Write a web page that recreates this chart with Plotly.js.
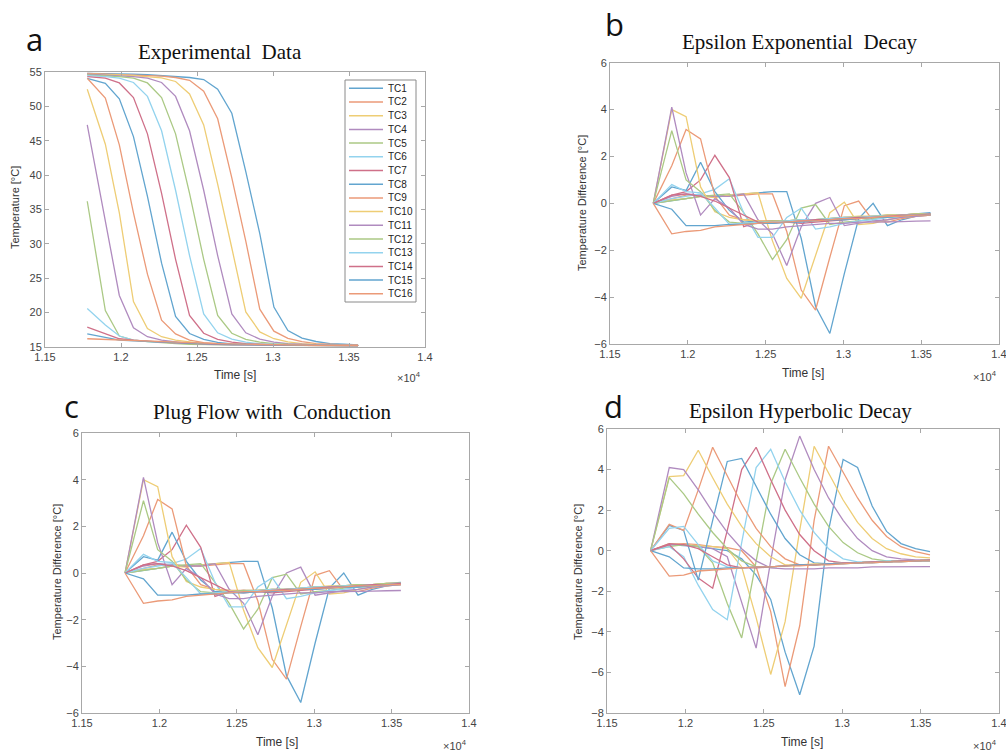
<!DOCTYPE html>
<html>
<head>
<meta charset="utf-8">
<script src="https://cdn.plot.ly/plotly-3.0.1.min.js"></script>
<style>html,body{margin:0;padding:0;background:#fff;}#chart{width:1006px;height:751px;}</style>
</head>
<body>
<div id="chart"></div>
<script>
// ---------------- data ----------------
const time = [11778, 11897, 11989, 12082, 12174, 12267, 12359, 12451, 12544, 12636, 12729, 12821, 12913, 13006, 13098, 13191, 13283, 13375, 13468, 13560];
const seriesNames = ['TC1','TC2','TC3','TC4','TC5','TC6','TC7','TC8','TC9','TC10','TC11','TC12','TC13','TC14','TC15','TC16'];
const xTickVals = [11500, 12000, 12500, 13000, 13500, 14000];
const xTickText = ['1.15', '1.2', '1.25', '1.3', '1.35', '1.4'];

// Panel a: experimental temperature [°C], one row per thermocouple TC1..TC16
const expTemp = [
  [54.8, 54.8, 54.7, 54.7, 54.6, 54.5, 54.4, 54.2, 53.9, 52.5, 49.0, 40.5, 31.5, 20.8, 17.4, 16.3, 15.8, 15.5, 15.4, 15.3],
  [54.8, 54.7, 54.7, 54.6, 54.5, 54.4, 54.2, 53.8, 52.2, 48.2, 39.6, 30.4, 20.5, 17.3, 16.25, 15.77, 15.49, 15.39, 15.3, 15.25],
  [54.7, 54.68, 54.58, 54.48, 54.36, 54.14, 53.62, 51.8, 47.3, 38.7, 29.4, 20.1, 17.2, 16.2, 15.74, 15.48, 15.38, 15.29, 15.25, 15.25],
  [54.67, 54.57, 54.47, 54.34, 54.11, 53.48, 51.45, 46.45, 37.8, 28.3, 19.8, 17.07, 16.15, 15.71, 15.47, 15.37, 15.29, 15.25, 15.25, 15.24],
  [54.57, 54.47, 54.33, 54.1, 53.41, 51.28, 46.0, 37.35, 27.75, 19.6, 17.0, 16.12, 15.7, 15.47, 15.37, 15.28, 15.25, 15.25, 15.24, 15.24],
  [54.47, 54.34, 54.11, 53.48, 51.45, 46.45, 37.8, 28.3, 19.8, 17.07, 16.15, 15.71, 15.47, 15.37, 15.29, 15.25, 15.25, 15.24, 15.24, 15.23],
  [54.33, 54.1, 53.41, 51.28, 46.0, 37.35, 27.75, 19.6, 17.0, 16.12, 15.7, 15.47, 15.37, 15.28, 15.25, 15.25, 15.24, 15.24, 15.23, 15.23],
  [54.08, 53.34, 51.1, 45.6, 36.9, 27.2, 19.44, 16.96, 16.1, 15.68, 15.46, 15.36, 15.28, 15.25, 15.25, 15.24, 15.24, 15.23, 15.23, 15.23],
  [54.1, 51.2, 44.4, 34.5, 25.6, 18.9, 16.9, 16.0, 15.64, 15.45, 15.35, 15.27, 15.25, 15.24, 15.24, 15.23, 15.23, 15.23, 15.22, 15.22],
  [52.5, 44.5, 34.5, 21.6, 17.7, 16.5, 16.0, 15.7, 15.5, 15.4, 15.35, 15.3, 15.28, 15.25, 15.24, 15.24, 15.23, 15.23, 15.22, 15.22],
  [47.3, 33.5, 22.5, 17.8, 16.5, 16.0, 15.7, 15.5, 15.4, 15.35, 15.3, 15.28, 15.25, 15.24, 15.24, 15.23, 15.23, 15.22, 15.22, 15.22],
  [36.2, 20.3, 16.6, 16.0, 15.8, 15.6, 15.5, 15.4, 15.35, 15.3, 15.28, 15.26, 15.25, 15.24, 15.23, 15.23, 15.22, 15.22, 15.22, 15.21],
  [20.6, 18.2, 16.6, 16.0, 15.8, 15.7, 15.6, 15.5, 15.4, 15.35, 15.3, 15.28, 15.26, 15.25, 15.24, 15.23, 15.22, 15.22, 15.21, 15.21],
  [17.9, 17.0, 16.2, 16.0, 15.8, 15.7, 15.6, 15.5, 15.45, 15.4, 15.35, 15.3, 15.28, 15.26, 15.25, 15.24, 15.23, 15.22, 15.21, 15.21],
  [16.9, 16.4, 16.0, 15.9, 15.8, 15.7, 15.6, 15.55, 15.5, 15.45, 15.4, 15.35, 15.3, 15.28, 15.26, 15.25, 15.24, 15.23, 15.22, 15.21],
  [16.2, 16.1, 16.0, 15.9, 15.8, 15.75, 15.7, 15.6, 15.55, 15.5, 15.45, 15.4, 15.35, 15.3, 15.28, 15.26, 15.25, 15.24, 15.23, 15.22]
];

// Panels b and c: temperature difference [°C] (the two panels show the same curves)
const diffExp = [
  [0, 0.1, 0.2, 0.3, 0.3, 0.35, 0.4, 0.45, 0.5, 0.5, -1.5, -4.4, -5.55, -3.0, -0.65, 0.0, -0.95, -0.7, -0.55, -0.45],
  [0, 0.2, 0.35, 0.35, 0.3, 0.3, 0.35, 0.4, 0.4, -1.2, -3.7, -4.55, -2.3, -0.1, 0.1, -0.75, -0.8, -0.65, -0.55, -0.5],
  [0, 0.15, 0.2, 0.3, 0.25, 0.35, 0.4, 0.45, -1.6, -3.2, -4.05, -2.2, -0.4, 0.05, -0.9, -0.85, -0.7, -0.6, -0.55, -0.5],
  [0, 0.3, 0.4, 0.35, 0.3, 0.3, 0.4, -0.7, -1.3, -2.65, -1.0, 0.0, 0.25, -0.95, -0.85, -0.75, -0.7, -0.6, -0.55, -0.5],
  [0, 0.1, 0.2, 0.3, 0.35, 0.4, -0.4, -1.3, -2.4, -1.55, -0.2, -0.05, -0.9, -0.8, -0.75, -0.65, -0.6, -0.55, -0.5, -0.45],
  [0, 0.2, 0.3, 0.4, 0.6, 1.05, -0.4, -1.45, -1.45, -0.6, -0.2, -1.1, -1.0, -0.85, -0.75, -0.7, -0.6, -0.55, -0.5, -0.45],
  [0, 0.35, 0.5, 1.0, 2.05, 1.1, -1.0, -0.8, -0.75, -0.8, -0.85, -0.8, -0.75, -0.7, -0.65, -0.6, -0.55, -0.5, -0.5, -0.45],
  [0, 0.7, 0.55, 1.75, 0.5, -0.3, -0.8, -0.75, -0.8, -0.8, -0.75, -0.7, -0.7, -0.65, -0.6, -0.6, -0.55, -0.5, -0.45, -0.4],
  [0, 1.6, 3.15, 2.75, 0.3, -0.5, -0.7, -0.75, -0.75, -0.75, -0.7, -0.7, -0.65, -0.6, -0.6, -0.55, -0.5, -0.5, -0.45, -0.45],
  [0, 4.0, 3.7, 0.7, -0.36, -0.6, -0.7, -0.75, -0.8, -0.75, -0.7, -0.7, -0.65, -0.6, -0.55, -0.55, -0.5, -0.5, -0.45, -0.45],
  [0, 4.1, 1.3, -0.5, 0.2, -0.2, -0.9, -1.1, -1.1, -1.0, -0.95, -0.9, -0.85, -0.85, -0.8, -0.8, -0.8, -0.78, -0.76, -0.75],
  [0, 3.1, 1.0, 0.5, -0.3, -0.8, -0.85, -0.8, -0.75, -0.75, -0.7, -0.7, -0.65, -0.6, -0.6, -0.55, -0.5, -0.5, -0.45, -0.45],
  [0, 0.8, 0.5, 0.45, -0.2, -0.9, -0.85, -0.8, -0.8, -0.75, -0.7, -0.7, -0.65, -0.6, -0.6, -0.55, -0.55, -0.5, -0.5, -0.45],
  [0, 0.35, 0.4, 0.3, 0.1, -0.2, -0.5, -0.8, -0.85, -0.8, -0.75, -0.7, -0.7, -0.65, -0.6, -0.6, -0.55, -0.5, -0.5, -0.45],
  [0, -0.25, -0.95, -0.95, -0.95, -0.9, -0.9, -0.85, -0.85, -0.8, -0.8, -0.75, -0.7, -0.7, -0.65, -0.6, -0.6, -0.55, -0.5, -0.5],
  [0, -1.3, -1.2, -1.15, -1.0, -0.95, -0.9, -0.85, -0.8, -0.8, -0.75, -0.75, -0.7, -0.65, -0.65, -0.6, -0.55, -0.55, -0.5, -0.5]
];

// Panel d: temperature difference [°C], hyperbolic decay
const diffHyp = [
  [0, 0.3, 0.25, 0.2, 0.1, 0.0, -0.4, -1.2, -2.4, -5.0, -7.1, -4.7, 1.0, 4.5, 4.1, 2.2, 0.95, 0.35, 0.1, -0.05],
  [0, 0.3, 0.35, 0.3, 0.2, 0.15, 0.0, -0.8, -3.0, -6.7, -3.7, 1.5, 5.15, 3.9, 2.6, 1.5, 0.7, 0.2, -0.05, -0.2],
  [0, 0.35, 0.3, 0.25, 0.2, 0.1, -0.8, -3.3, -6.1, -3.5, 1.0, 5.15, 3.8, 2.5, 1.4, 0.6, 0.1, -0.15, -0.3, -0.35],
  [0, 0.3, 0.3, 0.2, 0.1, -0.3, -2.5, -4.8, -0.5, 3.5, 5.65, 4.0, 2.6, 1.5, 0.6, 0.0, -0.3, -0.4, -0.45, -0.45],
  [0, 0.2, 0.3, 0.2, -0.6, -2.6, -4.3, -0.5, 3.3, 5.0, 3.6, 2.3, 1.2, 0.4, -0.1, -0.4, -0.5, -0.5, -0.5, -0.5],
  [0, 0.2, -0.3, -1.7, -2.9, -3.4, 0.4, 4.1, 5.0, 3.4, 2.0, 0.9, 0.1, -0.4, -0.55, -0.55, -0.5, -0.5, -0.5, -0.5],
  [0, 0.3, -0.4, -1.35, -1.85, 1.0, 4.0, 5.1, 3.5, 2.0, 0.8, 0.0, -0.5, -0.6, -0.6, -0.55, -0.55, -0.5, -0.5, -0.45],
  [0, 1.25, 1.0, -1.45, 1.5, 4.4, 4.55, 3.2, 1.8, 0.6, -0.2, -0.6, -0.65, -0.6, -0.6, -0.55, -0.55, -0.5, -0.5, -0.45],
  [0, 1.3, 1.0, 3.0, 5.1, 3.7, 2.3, 1.1, 0.2, -0.4, -0.7, -0.7, -0.65, -0.6, -0.6, -0.55, -0.55, -0.5, -0.5, -0.45],
  [0, 3.65, 3.7, 4.95, 3.6, 2.3, 1.2, 0.35, -0.3, -0.7, -0.7, -0.65, -0.65, -0.6, -0.6, -0.55, -0.55, -0.5, -0.5, -0.45],
  [0, 4.1, 4.0, 3.0, 1.9, 0.9, 0.1, -0.5, -0.85, -0.9, -0.9, -0.9, -0.85, -0.85, -0.85, -0.8, -0.8, -0.8, -0.8, -0.78],
  [0, 3.6, 2.8, 1.8, 0.9, 0.1, -0.5, -0.8, -0.8, -0.75, -0.7, -0.7, -0.65, -0.6, -0.6, -0.55, -0.55, -0.5, -0.5, -0.45],
  [0, 1.1, 1.2, 0.3, -0.5, -0.8, -0.85, -0.8, -0.8, -0.75, -0.7, -0.7, -0.65, -0.6, -0.6, -0.55, -0.55, -0.5, -0.5, -0.45],
  [0, 0.35, 0.3, 0.1, -0.3, -0.7, -0.85, -0.85, -0.8, -0.75, -0.7, -0.7, -0.65, -0.6, -0.6, -0.55, -0.55, -0.5, -0.5, -0.45],
  [0, -0.3, -0.85, -0.9, -0.9, -0.85, -0.85, -0.8, -0.8, -0.75, -0.7, -0.7, -0.65, -0.65, -0.6, -0.6, -0.55, -0.55, -0.5, -0.5],
  [0, -1.25, -1.2, -1.0, -0.95, -0.9, -0.85, -0.8, -0.8, -0.75, -0.75, -0.7, -0.7, -0.65, -0.6, -0.6, -0.55, -0.55, -0.5, -0.5]
];

// ---------------- styling ----------------
const palette = ['#62a5cf', '#eb9a78', '#eecd75', '#b08bbf', '#abc985', '#93d3ee', '#cf7089'];
const W = 1006, H = 751;
const px = x => x / W;
const py = y => 1 - y / H;

const traces = [];
function addPanel(rows, xa, ya) {
  rows.forEach((vals, k) => {
    traces.push({
      x: time, y: vals, type: 'scatter', mode: 'lines',
      name: seriesNames[k], xaxis: xa, yaxis: ya, showlegend: false,
      line: {color: palette[k % palette.length], width: 1.3}
    });
  });
}
addPanel(expTemp, 'x', 'y');
addPanel(diffExp, 'x2', 'y2');
addPanel(diffExp, 'x3', 'y3');
addPanel(diffHyp, 'x4', 'y4');

const axisLine = '#a8a8a8';
const tickFont = {family: 'Liberation Sans, Arial, sans-serif', size: 11, color: '#444'};
function xAx(l, r, anchor) {
  return {domain: [px(l), px(r)], anchor: anchor, range: [11500, 14000],
    tickmode: 'array', tickvals: xTickVals, ticktext: xTickText,
    showline: true, mirror: 'ticks', linecolor: axisLine, linewidth: 1,
    ticks: 'inside', ticklen: 4, tickcolor: axisLine, ticklabeloverflow: 'allow',
    showgrid: false, zeroline: false, tickfont: tickFont};
}
function yAx(top, bot, anchor, range, dtick) {
  return {domain: [py(bot), py(top)], anchor: anchor, range: range, dtick: dtick, tick0: range[0],
    showline: true, mirror: 'ticks', linecolor: axisLine, linewidth: 1,
    ticks: 'inside', ticklen: 4, tickcolor: axisLine,
    showgrid: false, zeroline: false, tickfont: tickFont};
}

const titleFont = {family: 'Liberation Serif, Times New Roman, serif', size: 21, color: '#111'};
const letterFont = {family: 'Open Sans, Noto Sans, sans-serif', size: 31, color: '#111'};
const labFont = {family: 'Liberation Sans, Arial, sans-serif', size: 11, color: '#333'};
const labFontX = {family: 'Liberation Sans, Arial, sans-serif', size: 12, color: '#333'};

function ann(text, x, y, font, extra) {
  return Object.assign({text: text, x: px(x), y: py(y), xref: 'paper', yref: 'paper',
    showarrow: false, xanchor: 'center', yanchor: 'middle', font: font}, extra || {});
}

const annotations = [
  ann('Experimental\u00A0 Data', 220, 52, titleFont),
  ann('Epsilon Exponential\u00A0 Decay', 800, 42, titleFont),
  ann('Plug Flow with\u00A0 Conduction', 272, 412, titleFont),
  ann('Epsilon Hyperbolic Decay', 800, 411, titleFont),
  ann('a', 34, 39, letterFont),
  ann('b', 614, 24, letterFont),
  ann('c', 71, 406, letterFont),
  ann('d', 613, 406, letterFont),
  ann('Time [s]', 235, 375, labFontX),
  ann('Time [s]', 803, 373, labFontX),
  ann('Time [s]', 277, 742, labFontX),
  ann('Time [s]', 802, 742, labFontX),
  ann('Temperature [°C]', 15, 208, labFont, {textangle: -90}),
  ann('Temperature Difference [°C]', 582, 203, labFont, {textangle: -90}),
  ann('Temperature Difference [°C]', 57, 572, labFont, {textangle: -90}),
  ann('Temperature Difference [°C]', 578, 572, labFont, {textangle: -90}),
  ann('×10<sup>4</sup>', 423, 377, tickFont, {xanchor: 'right'}),
  ann('×10<sup>4</sup>', 999, 376, tickFont, {xanchor: 'right'}),
  ann('×10<sup>4</sup>', 469, 745, tickFont, {xanchor: 'right'}),
  ann('×10<sup>4</sup>', 999, 745, tickFont, {xanchor: 'right'})
];

// manual compact legend for panel a
const shapes = [{type: 'rect', xref: 'paper', yref: 'paper', x0: px(345), x1: px(416), y0: py(302), y1: py(80),
  line: {color: '#8a8a8a', width: 1}, fillcolor: '#ffffff', layer: 'above'}];
seriesNames.forEach((nm, k) => {
  const yy = 88.3 + 13.7 * k;
  shapes.push({type: 'line', xref: 'paper', yref: 'paper', x0: px(349), x1: px(383), y0: py(yy), y1: py(yy),
    line: {color: palette[k % palette.length], width: 1.5}, layer: 'above'});
  annotations.push(ann(nm, 386, yy, {family: 'Liberation Sans, Arial, sans-serif', size: 10, color: '#222'}, {xanchor: 'left'}));
});

const layout = {
  width: W, height: H, margin: {l: 0, r: 0, t: 0, b: 0},
  paper_bgcolor: '#fff', plot_bgcolor: '#fff', showlegend: false,
  xaxis: xAx(45, 425, 'y'),
  yaxis: yAx(72, 347, 'x', [15, 55], 5),
  xaxis2: xAx(610, 999, 'y2'),
  yaxis2: yAx(62.7, 344, 'x2', [-6, 6], 2),
  xaxis3: xAx(82, 469, 'y3'),
  yaxis3: yAx(433, 713, 'x3', [-6, 6], 2),
  xaxis4: xAx(607, 999, 'y4'),
  yaxis4: yAx(429, 713, 'x4', [-8, 6], 2),
  annotations: annotations,
  shapes: shapes
};

Plotly.newPlot('chart', traces, layout, {staticPlot: true, displayModeBar: false});
</script>
</body>
</html>
